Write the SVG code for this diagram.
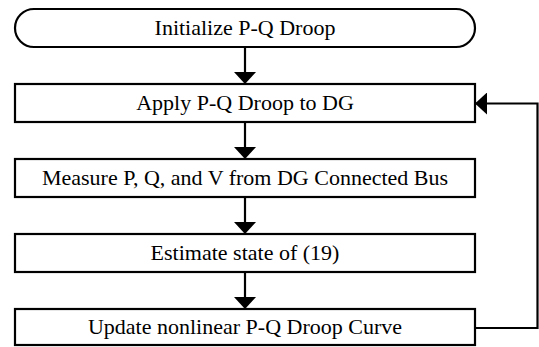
<svg xmlns="http://www.w3.org/2000/svg" width="539" height="347" viewBox="0 0 539 347">
<defs>
<style>
.box{fill:#fff;stroke:#000;stroke-width:2.2}
.lbl{font-family:"Liberation Serif","Times New Roman",serif;font-size:22px;fill:#000;text-anchor:middle}
.ln{fill:none;stroke:#000;stroke-width:2.2}
</style>
<marker id="ah" viewBox="0 0 12 22" refX="12" refY="11" markerWidth="12" markerHeight="22" markerUnits="userSpaceOnUse" orient="auto">
<path d="M0,0 L12,11 L0,22 Z" fill="#000"/>
</marker>
</defs>
<g id="connectors">
<line class="ln" x1="245" y1="47" x2="245" y2="84" marker-end="url(#ah)"/>
<line class="ln" x1="245" y1="122" x2="245" y2="159" marker-end="url(#ah)"/>
<line class="ln" x1="245" y1="197" x2="245" y2="234" marker-end="url(#ah)"/>
<line class="ln" x1="245" y1="272" x2="245" y2="309" marker-end="url(#ah)"/>
<polyline class="ln" points="475,328 537.5,328 537.5,103.5 475,103.5" marker-end="url(#ah)"/>
</g>
<g id="n1">
<rect class="box" x="15" y="9" width="460" height="38" rx="19" ry="19"/>
<text class="lbl" x="245" y="35">Initialize P-Q Droop</text>
</g>
<g id="n2">
<rect class="box" x="15" y="84" width="460" height="38"/>
<text class="lbl" x="245" y="110">Apply P-Q Droop to DG</text>
</g>
<g id="n3">
<rect class="box" x="15" y="159" width="460" height="38"/>
<text class="lbl" x="245" y="185">Measure P, Q, and V from DG Connected Bus</text>
</g>
<g id="n4">
<rect class="box" x="15" y="234" width="460" height="38"/>
<text class="lbl" x="245" y="260">Estimate state of (19)</text>
</g>
<g id="n5">
<rect class="box" x="15" y="309" width="460" height="36"/>
<text class="lbl" x="245" y="334">Update nonlinear P-Q Droop Curve</text>
</g>
</svg>
